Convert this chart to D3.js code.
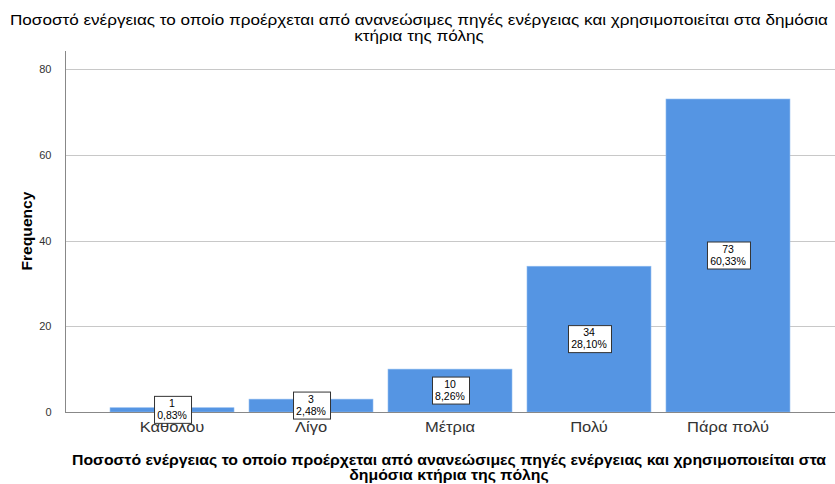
<!DOCTYPE html>
<html>
<head>
<meta charset="utf-8">
<script src="https://cdn.jsdelivr.net/npm/d3@7"></script>
<style>
  body { margin: 0; background: #fff; }
  text { font-family: "Liberation Sans", Arial, sans-serif; }
</style>
</head>
<body>
<div id="chart"></div>
<script>

// chart data
var categories = ["Καθόλου", "Λίγο", "Μέτρια", "Πολύ", "Πάρα πολύ"]
var counts = [1, 3, 10, 34, 73]
var percents = ["0,83%", "2,48%", "8,26%", "28,10%", "60,33%"]
var yTicks = [0, 20, 40, 60, 80]

var titleLines = ["Ποσοστό ενέργειας το οποίο προέρχεται από ανανεώσιμες πηγές ενέργειας και χρησιμοποιείται στα δημόσια", "κτήρια της πόλης"]
var xTitleLines = ["Ποσοστό ενέργειας το οποίο προέρχεται από ανανεώσιμες πηγές ενέργειας και χρησιμοποιείται στα", "δημόσια κτήρια της πόλης"]

var width = 835, height = 484
var margin = { top: 51, right: 0, bottom: 72, left: 65 }

var svg = d3.select("#chart").append("svg")
    .attr("width", width)
    .attr("height", height)

// the reference text is set wider than our fonts, so stretch it a bit
function widen(sel, factor) {
    sel.each(function() {
        var len = this.getComputedTextLength()
        d3.select(this)
            .attr("textLength", len * factor)
            .attr("lengthAdjust", "spacingAndGlyphs")
    })
}

var x = d3.scaleBand()
    .domain(categories)
    .range([margin.left, width - margin.right])
    .paddingInner(0.108)
    .paddingOuter(0.324)

var y = d3.scaleLinear()
    .domain([0, 80])
    .range([412, 69])

// gridlines
svg.append("g")
    .selectAll("line")
    .data(yTicks.filter(d => d > 0))
    .join("line")
    .attr("x1", margin.left)
    .attr("x2", width)
    .attr("y1", d => Math.round(y(d)) + 0.5)
    .attr("y2", d => Math.round(y(d)) + 0.5)
    .attr("stroke", "#c8c8c8")
    .attr("stroke-width", 1)

// bars
svg.append("g")
    .selectAll("rect")
    .data(counts)
    .join("rect")
    .attr("x", (d, i) => x(categories[i]))
    .attr("y", d => y(d))
    .attr("width", x.bandwidth())
    .attr("height", d => y(0) - y(d))
    .attr("fill", "#5595e3")
    .attr("stroke", "#8fbcf0")
    .attr("stroke-width", 0.6)

// axes
var yAxis = d3.axisLeft(y).tickValues(yTicks).tickSize(0).tickPadding(14)
var gy = svg.append("g")
    .attr("transform", `translate(${margin.left + 0.5},0)`)
    .call(yAxis)
gy.select(".domain").remove()
gy.selectAll("text")
    .attr("font-size", 11)
    .attr("fill", "#333")
    .attr("font-family", "Liberation Sans, Arial, sans-serif")

svg.append("line")
    .attr("x1", margin.left + 0.5).attr("x2", margin.left + 0.5)
    .attr("y1", margin.top).attr("y2", y(0))
    .attr("stroke", "#888")

svg.append("line")
    .attr("x1", margin.left).attr("x2", width)
    .attr("y1", y(0) + 0.5).attr("y2", y(0) + 0.5)
    .attr("stroke", "#888")

var xAxis = d3.axisBottom(x).tickSize(0).tickPadding(10)
var gx = svg.append("g")
    .attr("transform", `translate(0,${y(0)})`)
    .call(xAxis)
gx.select(".domain").remove()
gx.selectAll("text")
    .attr("font-size", 14)
    .attr("fill", "#333")
    .attr("font-family", "Liberation Sans, Arial, sans-serif")
    .call(widen, 1.18)

// value labels in boxes, centred in each bar
var labels = svg.append("g")
    .selectAll("g")
    .data(counts)
    .join("g")
    .attr("transform", (d, i) => `translate(${x(categories[i]) + x.bandwidth() / 2},${(y(d) + y(0)) / 2})`)

labels.each(function(d, i) {
    var g = d3.select(this)
    var t1 = g.append("text")
        .attr("text-anchor", "middle")
        .attr("y", -3)
        .attr("font-size", 10.5)
        .attr("fill", "#000")
        .text(d)
    var t2 = g.append("text")
        .attr("text-anchor", "middle")
        .attr("y", 9)
        .attr("font-size", 10.5)
        .attr("fill", "#000")
        .text(percents[i])
    var w = Math.max(t1.node().getComputedTextLength(), t2.node().getComputedTextLength()) + 7
    g.insert("rect", "text")
        .attr("x", -Math.round(w / 2) + 0.5)
        .attr("y", -13.5)
        .attr("width", Math.round(w))
        .attr("height", 27)
        .attr("fill", "#fff")
        .attr("stroke", "#333")
        .attr("stroke-width", 1)
})

// titles
var title = svg.append("g")
    .selectAll("text")
    .data(titleLines)
    .join("text")
    .attr("text-anchor", "middle")
    .attr("font-size", 14.5)
    .attr("fill", "#000")
    .attr("x", 419)
    .attr("y", (d, i) => 25 + i * 16)
    .text(d => d)

title.call(widen, 818 / title.node().getComputedTextLength())

var xTitle = svg.append("g")
    .selectAll("text")
    .data(xTitleLines)
    .join("text")
    .attr("text-anchor", "middle")
    .attr("font-size", 14)
    .attr("font-weight", "bold")
    .attr("fill", "#000")
    .attr("x", 449)
    .attr("y", (d, i) => 465 + i * 15)
    .text(d => d)

xTitle.call(widen, 754 / xTitle.node().getComputedTextLength())

var yTitle = svg.append("text")
    .attr("transform", "translate(32,231) rotate(-90)")
    .attr("text-anchor", "middle")
    .attr("font-size", 15)
    .attr("font-weight", "bold")
    .attr("fill", "#000")
    .text("Frequency")

yTitle.call(widen, 79 / yTitle.node().getComputedTextLength())

</script>
</body>
</html>
